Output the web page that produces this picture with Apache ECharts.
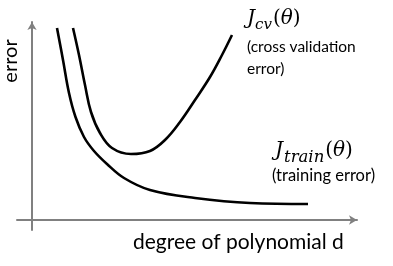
<!DOCTYPE html>
<html>
<head>
<meta charset="utf-8">
<script src="https://cdn.jsdelivr.net/npm/echarts@6/dist/echarts.min.js"></script>
<style>
html,body{margin:0;padding:0;background:#fff;}
#c{width:393px;height:266px;}
</style>
</head>
<body>
<div id="c"></div>
<script>
// Training error curve (x: degree position, y: error)
var trainX = [25, 31, 37, 43.5, 52, 62, 75, 92, 118, 163, 218, 276];
var trainY = [192, 160, 127, 103, 83, 69, 56, 42, 30, 22, 17, 16];
// Cross validation error curve
var cvX = [41, 47, 53, 59, 68, 80, 99, 118, 133, 148, 163, 178, 190, 200];
var cvY = [192, 165, 135, 108, 87, 72, 66, 69, 80, 98, 120, 143, 165, 185];

var xTitle = 'degree of polynomial d';
var yTitle = 'error';

function pairs(xs, ys){ return xs.map(function(x,i){ return [x, ys[i]]; }); }

var chart = echarts.init(document.getElementById('c'), null, {renderer:'canvas'});
var sans = 'Lato';
var serif = 'DejaVu Serif';
var mathRich = {
  j:{fontFamily:serif, fontStyle:'italic', fontSize:20, lineHeight:22, fill:'#000', verticalAlign:'top'},
  s:{fontFamily:serif, fontStyle:'italic', fontSize:15, lineHeight:15, fill:'#000', verticalAlign:'top', padding:[9,1,0,0]},
  t:{fontFamily:serif, fontStyle:'italic', fontSize:16.5, lineHeight:16, fill:'#000', verticalAlign:'top', padding:[8,1,0,1]},
  r:{fontFamily:serif, fontSize:20, lineHeight:22, fill:'#000', verticalAlign:'top'}
};
chart.setOption({
  animation:false,
  grid:{left:17, right:36, top:22, bottom:36},
  xAxis:{type:'value', min:-15, max:325, splitLine:{show:false},
    axisTick:{show:false}, axisLabel:{show:false},
    axisLine:{onZero:true, lineStyle:{color:'#808080', width:2}, symbol:['none','arrow'], symbolSize:[7,8]}},
  yAxis:{type:'value', min:-10, max:198, splitLine:{show:false},
    axisTick:{show:false}, axisLabel:{show:false},
    axisLine:{onZero:true, lineStyle:{color:'#808080', width:2}, symbol:['none','arrow'], symbolSize:[7,8]}},
  series:[
    {type:'line', data:pairs(trainX, trainY), smooth:0.4, showSymbol:false, lineStyle:{color:'#000', width:2.6}},
    {type:'line', data:pairs(cvX, cvY), smooth:0.4, showSymbol:false, lineStyle:{color:'#000', width:2.6}}
  ],
  graphic:[
    {type:'text', left:133, top:232, style:{text:xTitle, font:'21px '+sans, fill:'#000'}},
    {type:'text', x:11, y:61, rotation:Math.PI/2, style:{text:yTitle, font:'20px '+sans, fill:'#000', align:'center', verticalAlign:'middle'}},
    {type:'text', x:247, y:9, style:{text:'{j|J}{s|cv}{r|(}{j|θ}{r|)}', rich:mathRich}},
    {type:'text', x:247, y:36, style:{text:'(cross validation\nerror)', font:'15.5px '+sans, fill:'#000', lineHeight:22}},
    {type:'text', x:275, y:141, style:{text:'{j|J}{t|train}{r|(}{j|θ}{r|)}', rich:mathRich}},
    {type:'text', x:272, y:167, style:{text:'(training error)', font:'16.5px '+sans, fill:'#000'}}
  ]
});
</script>
</body>
</html>
